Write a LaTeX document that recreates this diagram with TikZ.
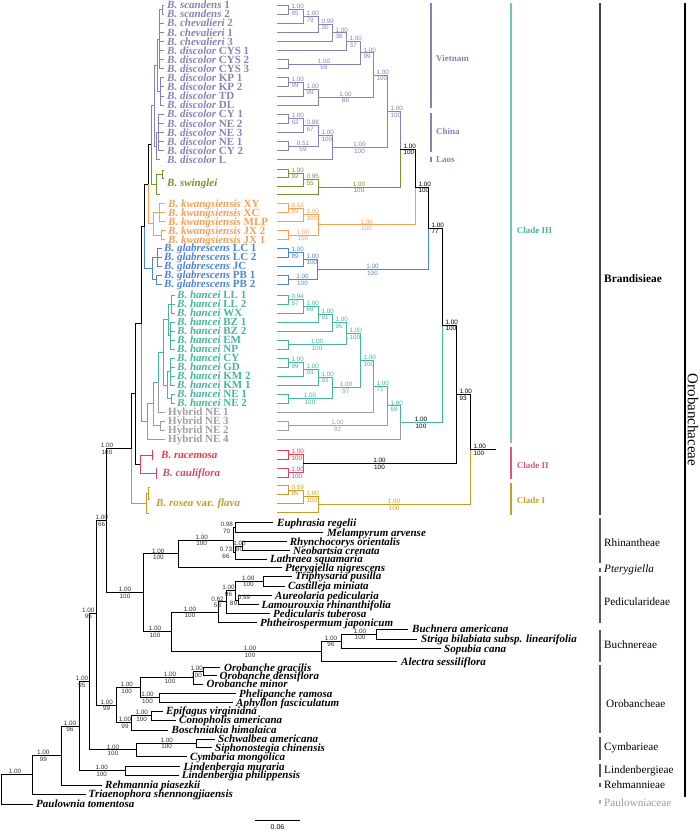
\documentclass[tikz,border=0pt]{standalone}
\usepackage{fontspec}
\setmainfont{Liberation Serif}
\newfontfamily\numfont{Liberation Sans}

\definecolor{vio}{RGB}{138,128,182}
\definecolor{grn}{RGB}{112,150,45}
\definecolor{org}{RGB}{244,160,88}
\definecolor{blu}{RGB}{78,132,208}
\definecolor{tea}{RGB}{70,180,160}
\definecolor{teb}{RGB}{110,200,185}
\definecolor{gry}{RGB}{158,158,158}
\definecolor{rac}{RGB}{232,60,72}
\definecolor{mag}{RGB}{208,72,122}
\definecolor{gol}{RGB}{200,158,40}
\definecolor{cl2}{RGB}{214,88,124}
\definecolor{dk}{RGB}{50,50,50}

\tikzset{
  tax/.style={anchor=base west, yshift=-3.7pt, inner sep=0pt, font=\fontsize{11}{11}\selectfont\bfseries},
  bs/.style={inner sep=0.4pt, font=\numfont\fontsize{6.3}{6.3}\selectfont},
  rbr/.style={line width=0.9pt},
  lbr/.style={line width=1pt},
  bar/.style={line width=1.4pt},
  grp/.style={anchor=west, inner sep=0pt, font=\fontsize{11.2}{11.2}\selectfont},
  cld/.style={anchor=west, inner sep=0pt, font=\fontsize{9}{9}\selectfont\bfseries},
}
% support values: at the node / in the middle of a branch
\newcommand{\rlab}[4][black]{%
  \node[bs,text=#1,anchor=south west] at ([shift={(3,-0.2)}]#2) {#3};
  \node[bs,text=#1,anchor=north west] at ([shift={(3,0.6)}]#2) {#4};}
\newcommand{\mlab}[5][black]{%
  \node[bs,text=#1,anchor=south] at (#2,#3-0.2) {#4};
  \node[bs,text=#1,anchor=north] at (#2,#3+0.6) {#5};}

\begin{document}
\begin{tikzpicture}[x=1pt,y=-1pt]
\useasboundingbox (0,0) rectangle (700,831);

%%% right tree (Brandisia)
\coordinate (a1) at (288,9.55);
\coordinate (a2) at (303,16.4);
\coordinate (a3) at (318,24.3);
\coordinate (a4) at (332,32.9);
\coordinate (a5) at (346,41.7);
\coordinate (a6) at (288,64.15);
\coordinate (a7) at (360,52.9);
\coordinate (b1) at (288,82.35);
\coordinate (b2) at (303,89.2);
\coordinate (b3) at (318,97.15);
\coordinate (a8) at (373,75);
\coordinate (c1) at (288,118.75);
\coordinate (c2) at (303,125.6);
\coordinate (c3) at (288,146.05);
\coordinate (c4) at (318,135.8);
\coordinate (c5) at (332,147.75);
\coordinate (a9) at (387,111.4);
\coordinate (d1) at (288,173.25);
\coordinate (d2) at (303,179.6);
\coordinate (d3) at (318,187.05);
\coordinate (a10) at (400,149.2);
\coordinate (e1) at (288,208);
\coordinate (e2) at (303,214.75);
\coordinate (e3) at (288,235);
\coordinate (e4) at (318,224.9);
\coordinate (a11) at (415,187.05);
\coordinate (f1) at (288,252.5);
\coordinate (f2) at (303,259.25);
\coordinate (f3) at (288,279.5);
\coordinate (f4) at (317,269.4);
\coordinate (a12) at (428,228.2);
\coordinate (g1) at (288,299.5);
\coordinate (g2) at (303,306.25);
\coordinate (g3) at (318,314.1);
\coordinate (g4) at (332,322.55);
\coordinate (g5) at (288,344.5);
\coordinate (g6) at (346,333.5);
\coordinate (g7) at (288,362.5);
\coordinate (g8) at (303,369.25);
\coordinate (g9) at (318,377.1);
\coordinate (g10) at (288,398.5);
\coordinate (g11) at (332,387.8);
\coordinate (g12) at (360,360.65);
\coordinate (g13) at (373,386.3);
\coordinate (g14) at (288,425.5);
\coordinate (g15) at (387,405.9);
\coordinate (g16) at (400,422.45);
\coordinate (a13) at (442,325.3);
\coordinate (h1) at (288,454.5);
\coordinate (h2) at (288,472.5);
\coordinate (h3) at (303,463.5);
\coordinate (a14) at (456,394.4);
\coordinate (i1) at (288,490);
\coordinate (i2) at (303,496.75);
\coordinate (i3) at (318,504.6);
\coordinate (a15) at (470,449.5);
\coordinate (rt) at (496,449.5);

\draw[rbr,vio] (277,5) -| (a1) (277,14.1) -| (a1) (277,23.2) -| (a2) (277,32.3) -| (a3)
  (277,41.4) -| (a4) (277,50.5) -| (a5) (277,59.6) -| (a6) (277,68.7) -| (a6)
  (277,77.8) -| (b1) (277,86.9) -| (b1) (277,96) -| (b2) (277,105.1) -| (b3)
  (277,114.2) -| (c1) (277,123.3) -| (c1) (277,132.4) -| (c2) (277,141.5) -| (c3)
  (277,150.6) -| (c3) (277,159.7) -| (c5)
  (a1) -| (a2) (a2) -| (a3) (a3) -| (a4) (a4) -| (a5) (a5) -| (a7) (a6) -| (a7) (a7) -| (a8)
  (b1) -| (b2) (b2) -| (b3) (b3) -| (a8) (a8) -| (a9)
  (c1) -| (c2) (c2) -| (c4) (c3) -| (c4) (c4) -| (c5) (c5) -| (a9) (a9) -| (a10);
\draw[rbr,grn] (277,169) -| (d1) (277,177.5) -| (d1) (277,186) -| (d2) (277,194.5) -| (d3)
  (d1) -| (d2) (d2) -| (d3) (d3) -| (a10);
\draw[rbr,org] (277,203.5) -| (e1) (277,212.5) -| (e1) (277,221.5) -| (e2) (277,230.5) -| (e3)
  (277,239.5) -| (e3) (e1) -| (e2) (e2) -| (e4) (e3) -| (e4) (e4) -| (a11);
\draw[rbr,blu] (277,248) -| (f1) (277,257) -| (f1) (277,266) -| (f2) (277,275) -| (f3)
  (277,284) -| (f3) (f1) -| (f2) (f2) -| (f4) (f3) -| (f4) (f4) -| (a12);
\draw[rbr,tea] (277,295) -| (g1) (277,304) -| (g1) (277,313) -| (g2) (277,322) -| (g3)
  (277,331) -| (g4) (277,340) -| (g5) (277,349) -| (g5) (277,358) -| (g7) (277,367) -| (g7)
  (277,376) -| (g8) (277,385) -| (g9) (277,394) -| (g10) (277,403) -| (g10)
  (g1) -| (g2) (g2) -| (g3) (g3) -| (g4) (g4) -| (g6) (g5) -| (g6) (g6) -| (g12)
  (g7) -| (g8) (g8) -| (g9) (g9) -| (g11) (g10) -| (g11) (g11) -| (g12) (g12) -| (g13)
  (g13) -| (g15) (g15) -| (g16) (g16) -| (a13);
\draw[rbr,gry] (277,412) -| (g13) (277,421) -| (g14) (277,430) -| (g14) (g14) -| (g15)
  (277,439) -| (g16);
\draw[rbr,rac] (277,450) -| (h1) (277,459) -| (h1) (h1) -| (h3);
\draw[rbr,mag] (277,468) -| (h2) (277,477) -| (h2) (h2) -| (h3);
\draw[rbr,gol] (277,485.5) -| (i1) (277,494.5) -| (i1) (277,503.5) -| (i2) (277,512.5) -| (i3)
  (i1) -| (i2) (i2) -| (i3) (i3) -| (a15);
\draw[rbr] (a10) -| (a11) (a11) -| (a12) (a12) -| (a13) (a13) -| (a14) (h3) -| (a14)
  (a14) -| (a15) (a15) -- (rt);

\rlab[vio]{a1}{1.00}{85}
\rlab[vio]{a2}{1.00}{79}
\rlab[vio]{a3}{0.99}{30}
\rlab[vio]{a4}{1.00}{38}
\rlab[vio]{a5}{1.00}{37}
\mlab[vio]{324}{64.15}{1.00}{58}
\rlab[vio]{a7}{1.00}{99}
\rlab[vio]{b1}{1.00}{99}
\rlab[vio]{b2}{1.00}{99}
\mlab[vio]{345.5}{97.15}{1.00}{86}
\rlab[vio]{a8}{1.00}{100}
\rlab[vio]{c1}{1.00}{62}
\rlab[vio]{c2}{0.88}{67}
\mlab[vio]{303}{146.05}{0.51}{59}
\rlab[vio]{c4}{1.00}{100}
\mlab[vio]{359.5}{147.75}{1.00}{100}
\rlab[vio]{a9}{1.00}{100}
\rlab[grn]{d1}{1.00}{92}
\rlab[grn]{d2}{0.95}{55}
\mlab[grn]{359}{187.05}{1.00}{100}
\rlab{a10}{1.00}{100}
\rlab[org]{e1}{0.52}{89}
\rlab[org]{e2}{1.00}{100}
\mlab[org]{303}{235}{1.00}{100}
\mlab[org]{366.5}{224.9}{1.00}{100}
\rlab{a11}{1.00}{100}
\rlab[blu]{f1}{1.00}{89}
\rlab[blu]{f2}{1.00}{100}
\mlab[blu]{302.5}{279.5}{1.00}{100}
\mlab[blu]{372.5}{269.4}{1.00}{100}
\rlab{a12}{1.00}{77}
\rlab[tea]{g1}{0.94}{57}
\rlab[tea]{g2}{1.00}{69}
\rlab[tea]{g3}{1.00}{91}
\rlab[tea]{g4}{1.00}{95}
\mlab[tea]{317}{344.5}{1.00}{100}
\rlab[tea]{g6}{1.00}{100}
\rlab[tea]{g7}{1.00}{99}
\rlab[tea]{g8}{1.00}{93}
\rlab[tea]{g9}{1.00}{93}
\mlab[tea]{310}{398.5}{1.00}{100}
\mlab[tea]{346}{387.8}{1.00}{97}
\rlab[tea]{g12}{1.00}{100}
\rlab[tea]{g13}{1.00}{71}
\mlab[gry]{337.5}{425.5}{1.00}{92}
\rlab[tea]{g15}{1.00}{69}
\mlab{421}{422.45}{1.00}{100}
\rlab{a13}{1.00}{100}
\rlab[rac]{h1}{1.00}{100}
\rlab[mag]{h2}{1.00}{100}
\mlab{379.5}{463.5}{1.00}{100}
\rlab{a14}{1.00}{93}
\rlab[gol]{i1}{0.59}{85}
\rlab[gol]{i2}{1.00}{100}
\mlab[gol]{394}{504.6}{1.00}{100}
\rlab{a15}{1.00}{100}

%%% left tree, Brandisia part
\coordinate (N1) at (131.5,448.6);
\coordinate (N2) at (135.5,393.9);
\coordinate (N3) at (141,323.85);
\coordinate (N4) at (144.5,226.3);
\coordinate (N5) at (148,184.3);
\coordinate (N6) at (151,144.85);
\coordinate (pc) at (154,105.7);
\coordinate (vn) at (157.5,65.3);
\coordinate (va) at (159.5,39.1);
\coordinate (vs) at (162,9.55);
\coordinate (vb) at (160,91.45);
\coordinate (cl) at (156.5,146.05);
\coordinate (cn) at (158.5,132.4);
\coordinate (sw) at (156.5,184);
\coordinate (sw1) at (162,174);
\coordinate (kw) at (153,223.75);
\coordinate (kw1) at (159,212.5);
\coordinate (kw2) at (161,235);
\coordinate (gl) at (152,268.25);
\coordinate (gl1) at (157.5,257);
\coordinate (gl2) at (156.5,279.5);
\coordinate (HH) at (147.5,421.4);
\coordinate (H1) at (153.5,403.85);
\coordinate (H2) at (158,382.2);
\coordinate (hc) at (163,352.4);
\coordinate (hA) at (168,319.75);
\coordinate (hA1) at (171,304);
\coordinate (hA2) at (170,335.5);
\coordinate (hB) at (167,385);
\coordinate (hB1) at (170,371.5);
\coordinate (hB2) at (171,398.5);
\coordinate (hy) at (160,425.5);
\coordinate (rc) at (140,464);
\coordinate (rcm) at (152,455);
\coordinate (cau) at (156.5,473);
\coordinate (ro) at (146.5,503.25);
\coordinate (ro1) at (148,493.5);

\draw[lbr,vio] (164,5) -| (vs) (164,14.1) -| (vs) (vs) -| (va)
  (164,23.2) -| (va) (164,32.3) -| (va) (164,41.4) -| (va) (164,50.5) -| (va)
  (164,59.6) -| (va) (164,68.7) -| (va)
  (164,77.8) -| (vb) (164,86.9) -| (vb) (164,96) -| (vb) (164,105.1) -| (vb)
  (va) -| (vn) (vb) -| (vn)
  (164,114.2) -| (cn) (164,123.3) -| (cn) (164,132.4) -| (cn) (164,141.5) -| (cn)
  (164,150.6) -| (cn) (cn) -| (cl) (160,159.7) -| (cl)
  (vn) -| (pc) (cl) -| (pc) (pc) -| (N6);
\draw[lbr,grn] (164,170) -| (sw1) (164,178) -| (sw1) (160,194) -| (sw) (sw1) -| (sw) (sw) -| (N6);
\draw[lbr,org] (165,203.5) -| (kw1) (165,212.5) -| (kw1) (165,221.5) -| (kw1)
  (165,230.5) -| (kw2) (165,239.5) -| (kw2) (kw1) -| (kw) (kw2) -| (kw) (kw) -| (N5);
\draw[lbr,blu] (161.5,248) -| (gl1) (161.5,257) -| (gl1) (161.5,266) -| (gl1)
  (161.5,275) -| (gl2) (161.5,284) -| (gl2) (gl1) -| (gl) (gl2) -| (gl) (gl) -| (N4);
\draw[lbr,tea] (174.5,295) -| (hA1) (174.5,304) -| (hA1) (174.5,313) -| (hA1)
  (174.5,322) -| (hA2) (174.5,331) -| (hA2) (174.5,340) -| (hA2) (174.5,349) -| (hA2)
  (174.5,358) -| (hB1) (174.5,367) -| (hB1) (174.5,376) -| (hB1) (174.5,385) -| (hB1)
  (174.5,394) -| (hB2) (174.5,403) -| (hB2)
  (hA1) -| (hA) (hA2) -| (hA) (hB1) -| (hB) (hB2) -| (hB) (hA) -| (hc) (hB) -| (hc)
  (hc) -| (H2) (H2) -| (H1) (H1) -| (HH) (HH) -| (N3);
\draw[lbr,gry] (165,412) -| (H2) (165,421) -| (hy) (165,430) -| (hy) (hy) -| (H1) (165,439) -| (HH);
\draw[lbr,rac] (rcm) -| (rc) (152,450) -- (152,460);
\draw[lbr,mag] (cau) -| (rc) (156.5,467.5) -- (156.5,478.5);
\draw[lbr,gol] (150,487.5) -| (ro1) (150,499.5) -| (ro1) (149,513) -| (ro) (ro1) -| (ro) (ro) -| (N1);
\draw[lbr] (N6) -| (N5) (N5) -| (N4) (N4) -| (N3) (N3) -| (N2) (rc) -| (N2) (N2) -| (N1);

\foreach \yy/\sp/\id [count=\i] in {5/scandens/1, 14.1/scandens/2, 23.2/chevalieri/2,
  32.3/chevalieri/1, 41.4/chevalieri/3, 50.5/discolor/CYS 1, 59.6/discolor/CYS 2,
  68.7/discolor/CYS 3, 77.8/discolor/KP 1, 86.9/discolor/KP 2, 96/discolor/TD,
  105.1/discolor/DL, 114.2/discolor/CY 1, 123.3/discolor/NE 2, 132.4/discolor/NE 3,
  141.5/discolor/NE 1, 150.6/discolor/CY 2, 159.7/discolor/L}
  \node[tax,text=vio] (bv\i) at (167,\yy) {\textit{B. \sp} \id};
\node[tax,text=grn] (bsw) at (167,183) {\textit{B. swinglei}};
\foreach \yy/\id [count=\i] in {203.5/XY, 212.5/XC, 221.5/MLP, 230.5/JX 2, 239.5/JX 1}
  \node[tax,text=org] (bk\i) at (168,\yy) {\textit{B. kwangsiensis} \id};
\foreach \yy/\id [count=\i] in {248/LC 1, 257/LC 2, 266/JC, 275/PB 1, 284/PB 2}
  \node[tax,text=blu] (bg\i) at (164,\yy) {\textit{B. glabrescens} \id};
\foreach \yy/\id [count=\i] in {295/LL 1, 304/LL 2, 313/WX, 322/BZ 1, 331/BZ 2, 340/EM,
  349/NP, 358/CY, 367/GD, 376/KM 2, 385/KM 1, 394/NE 1, 403/NE 2}
  \node[tax,text=tea] (bh\i) at (177,\yy) {\textit{B. hancei} \id};
\foreach \yy/\id [count=\i] in {412/1, 421/3, 430/2, 439/4}
  \node[tax,text=gry] (hyb\i) at (168,\yy) {Hybrid NE \id};
\node[tax,text=rac] (brc) at (161,455) {\textit{B. racemosa}};
\node[tax,text=mag] (bca) at (162.5,472.7) {\textit{B. cauliflora}};
\node[tax,text=gol] (bro) at (156,502.3) {\textit{B. rosea} var. \textit{flava}};

%%% left tree, outgroups
\coordinate (lmf) at (106.7,520.7);
\coordinate (ne) at (96.7,613);
\coordinate (lam) at (143.3,592.8);
\coordinate (ptr) at (178.3,553.9);
\coordinate (rhi) at (233.3,540.05);
\coordinate (eum) at (235,527.5);
\coordinate (rne) at (242.7,546.2);
\coordinate (rnl) at (235,552.6);
\coordinate (tca) at (263.3,581);
\coordinate (alr) at (238.3,600);
\coordinate (pdr) at (235,590.5);
\coordinate (pdq) at (226,601.9);
\coordinate (pdm) at (218.3,612.1);
\coordinate (bsp) at (376.7,634);
\coordinate (bso) at (341.7,641.15);
\coordinate (bun) at (321.7,651.4);
\coordinate (pbj) at (171.7,631.75);
\coordinate (oy) at (203.3,671.5);
\coordinate (ow) at (193.3,677.75);
\coordinate (ox) at (159.3,697.8);
\coordinate (ou) at (140,687.8);
\coordinate (oz) at (151.7,715.5);
\coordinate (ov) at (131,722.75);
\coordinate (og) at (116.7,705.3);
\coordinate (cs) at (196.7,743.15);
\coordinate (cy) at (136.7,749.9);
\coordinate (nd) at (89.3,681.45);
\coordinate (li) at (125,770.85);
\coordinate (nc) at (79,726.15);
\coordinate (nb) at (61,755.6);
\coordinate (na) at (32.3,774.8);
\coordinate (nr) at (1.7,789.4);

\draw[lbr] (N1) -| (lmf) (lam) -| (lmf) (lmf) -| (ne) (og) -| (ne) (ne) -| (nd) (cy) -| (nd)
  (nd) -| (nc) (li) -| (nc) (nc) -| (nb) (nb) -| (na) (na) -| (nr)
  (101.7,785) -| (nb) (86,794) -| (na) (33,804) -| (nr)
  (ptr) -| (lam) (pbj) -| (lam) (rhi) -| (ptr) (282,567.7) -| (ptr)
  (eum) -| (rhi) (rnl) -| (rhi) (273,522.7) -| (eum) (323,532.3) -| (eum)
  (rne) -| (rnl) (267,559) -| (rnl) (286.7,541.7) -| (rne) (290,550.7) -| (rne)
  (pdm) -| (pbj) (bun) -| (pbj) (pdq) -| (pdm) (257,622.3) -| (pdm)
  (pdr) -| (pdq) (270,613.3) -| (pdq) (tca) -| (pdr) (alr) -| (pdr)
  (292,576) -| (tca) (285,586) -| (tca) (272,595.7) -| (alr) (258.5,604.3) -| (alr)
  (bso) -| (bun) (397,661.7) -| (bun) (bsp) -| (bso) (441,648.3) -| (bso)
  (408,629) -| (bsp) (417,639) -| (bsp)
  (ou) -| (og) (ov) -| (og) (ow) -| (ou) (ox) -| (ou) (oy) -| (ow) (203,684) -| (ow)
  (220,667.3) -| (oy) (216.7,675.7) -| (oy) (236,693.3) -| (ox) (233,702.3) -| (ox)
  (oz) -| (ov) (168.3,730) -| (ov) (163,711) -| (oz) (176,720) -| (oz)
  (cs) -| (cy) (186.7,756.7) -| (cy) (215,739) -| (cs) (212,747.3) -| (cs)
  (180.3,766.7) -| (li) (178.7,775) -| (li);

\foreach \xx/\yy/\nm [count=\i] in {277/522.7/Euphrasia regelii, 327/532.3/Melampyrum arvense,
  289.7/541.7/Rhynchocorys orientalis, 293/550.7/Neobartsia crenata,
  270/559/Lathraea squamaria, 285/567.7/Pterygiella nigrescens,
  295/576/Triphysaria pusilla, 288/586/Castilleja miniata,
  275/595.7/Aureolaria pedicularia, 261.5/604.3/Lamourouxia rhinanthifolia,
  273/613.3/Pedicularis tuberosa, 260/622.3/Phtheirospermum japonicum,
  412/629/Buchnera americana, 421/639/Striga bilabiata subsp. linearifolia,
  444/648.3/Sopubia cana, 401/661.7/Alectra sessiliflora,
  224/667.3/Orobanche gracilis, 219.5/675.7/Orobanche densiflora,
  206.5/684/Orobanche minor, 239/693.3/Phelipanche ramosa,
  236/702.3/Aphyllon fasciculatum, 166/711/Epifagus virginiana,
  179/720/Conopholis americana, 171.5/730/Boschniakia himalaica,
  218/739/Schwalbea americana, 215/747.3/Siphonostegia chinensis,
  190/756.7/Cymbaria mongolica, 183.3/766.7/Lindenbergia muraria,
  181.7/775/Lindenbergia philippensis, 105/785/Rehmannia piasezkii,
  88.5/794/Triaenophora shennongjiaensis, 36/804/Paulownia tomentosa}
  \node[tax] (og\i) at (\xx,\yy) {\textit{\nm}};

\mlab[dk]{101.7}{520.7}{1.00}{66}
\mlab[dk]{107}{448.6}{1.00}{100}
\mlab[dk]{125}{592.8}{1.00}{100}
\mlab[dk]{158.3}{553.9}{1.00}{100}
\mlab[dk]{201.7}{540.05}{1.00}{100}
\mlab[dk]{226.7}{527.5}{0.98}{70}
\mlab[dk]{226}{552.6}{0.73}{66}
\mlab[dk]{239.5}{546.2}{1.00}{80}
\mlab[dk]{155}{631.75}{1.00}{100}
\mlab[dk]{190}{612.1}{1.00}{100}
\mlab[dk]{217.5}{601.9}{0.82}{53}
\mlab[dk]{228.5}{590.5}{1.00}{96}
\mlab[dk]{248.3}{581}{1.00}{100}
\node[bs,text=dk,anchor=south] at (244,599.8) {0.99};
\node[bs,text=dk,anchor=north] at (233.5,600.6) {89};
\mlab[dk]{250}{651.4}{1.00}{100}
\mlab[dk]{331}{641.15}{1.00}{96}
\mlab[dk]{360}{634}{1.00}{100}
\mlab[dk]{88.3}{613}{1.00}{95}
\mlab[dk]{82}{681.45}{1.00}{95}
\mlab[dk]{106.7}{705.3}{1.00}{99}
\mlab[dk]{126.7}{687.8}{1.00}{100}
\mlab[dk]{170}{677.75}{1.00}{100}
\mlab[dk]{196.7}{671.5}{1.00}{100}
\mlab[dk]{147.5}{697.8}{1.00}{100}
\mlab[dk]{125}{722.75}{1.00}{99}
\mlab[dk]{141.7}{715.5}{1.00}{100}
\mlab[dk]{113}{749.9}{1.00}{100}
\mlab[dk]{166.7}{743.15}{1.00}{100}
\mlab[dk]{101.7}{770.85}{1.00}{100}
\mlab[dk]{70}{726.15}{1.00}{96}
\mlab[dk]{43.3}{755.6}{1.00}{99}
\node[bs,text=dk,anchor=south] (rootlab) at (15,774.6) {1.00};

%%% groups on the right
\draw[bar,vio] (431,3) -- (431,108) (431,112.7) -- (431,151.7) (431,156.7) -- (431,161.7);
\node[cld,text=vio] (vnm) at (436,58) {Vietnam};
\node[cld,text=vio] (chn) at (436,131.7) {China};
\node[cld,text=vio] (lao) at (436,159.3) {Laos};
\draw[bar,teb] (511,3) -- (511,442.7);
\draw[bar,cl2] (511,447.3) -- (511,479);
\draw[bar,gol] (511,483.3) -- (511,515);
\node[cld,text=tea] (c3l) at (516.7,230) {Clade III};
\node[cld,text=cl2] (c2l) at (516.7,465) {Clade II};
\node[cld,text=gol] (c1l) at (516.7,500) {Clade I};
\draw[bar,black!75] (600,3) -- (600,515);
\node[anchor=west,inner sep=0pt,font=\fontsize{11.4}{11.4}\selectfont\bfseries] (bra) at (604,278.3) {Brandisieae};
\draw[bar] (685,3) -- (685,797);
\node[rotate=-90,inner sep=0pt,font=\fontsize{15}{15}\selectfont] (oro) at (693,420) {Orobanchaceae};

\draw[bar,black!65] (600,518.3) -- (600,563.3) (600,567.7) -- (600,571.7) (600,576) -- (600,623.3)
  (600,630) -- (600,661.7) (600,665) -- (600,733.3) (600,737.3) -- (600,760)
  (600,764) -- (600,777.3) (600,782.7) -- (600,786.7);
\draw[bar,black!30] (600,800) -- (600,804);
\node[grp] (t1) at (604,543) {Rhinantheae};
\node[grp] (t2) at (604,570) {\textit{Pterygiella}};
\node[grp] (t3) at (604,601.7) {Pedicularideae};
\node[grp] (t4) at (604,645) {Buchnereae};
\node[grp] (t5) at (606,703.3) {Orobancheae};
\node[grp] (t6) at (604,748.3) {Cymbarieae};
\node[grp] (t7) at (604,771) {Lindenbergieae};
\node[grp] (t8) at (604,785) {Rehmannieae};
\node[grp,text=black!40] (t9) at (604,802.7) {Paulowniaceae};

%%% scale
\draw[lbr] (255,820) -- (300,820);
\node[bs,font=\numfont\fontsize{7}{7}\selectfont] (scl) at (277.5,827.5) {0.06};

\end{tikzpicture}
\end{document}
